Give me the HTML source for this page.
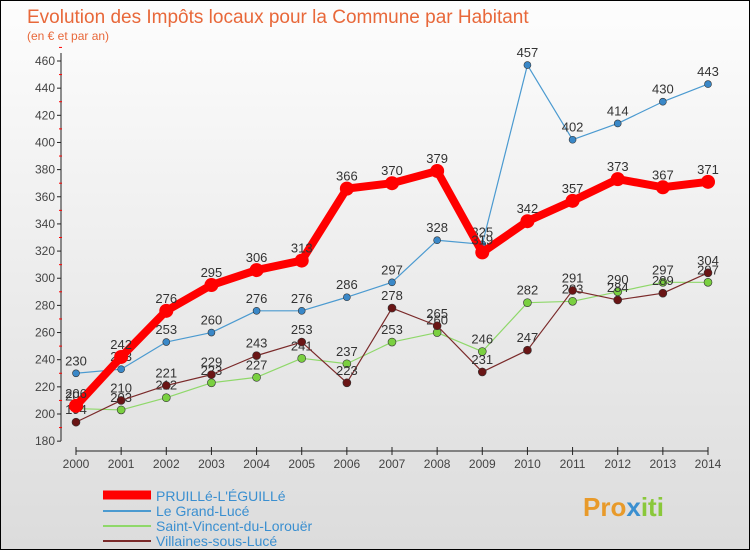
<!DOCTYPE html>
<html><head><meta charset="utf-8"><style>
body{margin:0;}
#c{position:relative;width:750px;height:550px;box-sizing:border-box;border:1px solid #000;background:linear-gradient(#fdfdfd,#dcdcdc);font-family:"Liberation Sans",sans-serif;overflow:hidden}
</style></head><body>
<div id="c">
<svg width="750" height="550" id="s" style="position:absolute;left:0;top:0">
<text x="26" y="22" font-size="19" fill="#e8683a">Evolution des Impôts locaux pour la Commune par Habitant</text>
<text x="26" y="39" font-size="12" fill="#e8683a">(en € et par an)</text>
<g id="axes"></g><g id="series"></g>
<g font-size="14">
<line x1="102" y1="494" x2="150" y2="494" stroke="#f00" stroke-width="9"/>
<text x="155" y="500" fill="#3a8fd0">PRUILLé-L'ÉGUILLé</text>
<line x1="102" y1="510" x2="150" y2="510" stroke="#4b9ad0" stroke-width="2"/>
<text x="155" y="515" fill="#3a8fd0">Le Grand-Lucé</text>
<line x1="102" y1="525" x2="150" y2="525" stroke="#8fd86a" stroke-width="2"/>
<text x="155" y="530" fill="#3a8fd0">Saint-Vincent-du-Lorouër</text>
<line x1="102" y1="540" x2="150" y2="540" stroke="#7a2a2a" stroke-width="2"/>
<text x="155" y="545" fill="#3a8fd0">Villaines-sous-Lucé</text>
</g>
<text x="582" y="515" font-size="26" font-weight="bold" fill="#e89a2a">Pro<tspan fill="#3a8fd0">x</tspan><tspan fill="#8ac83a">iti</tspan></text>
</svg>
</div>
<script>
const years=[2000,2001,2002,2003,2004,2005,2006,2007,2008,2009,2010,2011,2012,2013,2014];
const pruille=[206,242,276,295,306,313,366,370,379,319,342,357,373,367,371];
const grandLuce=[230,233,253,260,276,276,286,297,328,325,457,402,414,430,443];
const saintVincent=[204,203,212,223,227,241,237,253,260,246,282,283,290,297,297];
const villaines=[194,210,221,229,243,253,223,278,265,231,247,291,284,289,304];
const yTicks=[180,200,220,240,260,280,300,320,340,360,380,400,420,440,460];
const NS='http://www.w3.org/2000/svg';
const X=i=>75+i*(707-75)/14;
const Y=v=>413-(v-200)*(413-60)/260;
function mk(t,a,p){const e=document.createElementNS(NS,t);for(const k in a)e.setAttribute(k,a[k]);p.appendChild(e);return e;}
const ax=document.getElementById('axes');
let e=mk('line',{x1:60,y1:52,x2:60,y2:440,stroke:'#222'},ax);

e=mk('line',{x1:75,y1:450,x2:707,y2:450,stroke:'#222'},ax);

yTicks.forEach(v=>{const y=Y(v);
mk('line',{x1:56,y1:y,x2:60,y2:y,stroke:'#222'},ax);
mk('line',{x1:58,y1:Y(v+10),x2:61,y2:Y(v+10),stroke:'#f00'},ax);
const t=mk('text',{x:54,y:y+4,'font-size':12,fill:'#444','text-anchor':'end'},ax);t.textContent=v;
});
years.forEach((yr,i)=>{mk('line',{x1:X(i),y1:446,x2:X(i),y2:454,stroke:'#222'},ax);
const t=mk('text',{x:X(i),y:467,'font-size':12,fill:'#444','text-anchor':'middle'},ax);t.textContent=yr;
});
const sg=document.getElementById('series');
function draw(vals,name,col,w,r,dot){
const g=mk('g',{},sg);
const p=mk('polyline',{points:vals.map((v,i)=>X(i)+','+Y(v)).join(' '),fill:'none',stroke:col,'stroke-width':w,'stroke-linejoin':'round'},g);

vals.forEach((v,i)=>{const c=mk('circle',{cx:X(i),cy:Y(v),r:r,fill:dot,stroke:'#333','stroke-width':w>3?0:0.6},g);

const t=mk('text',{x:X(i),y:Y(v)-8,'font-size':13,fill:'#333','text-anchor':'middle'},g);t.textContent=v;
});}
draw(saintVincent,'saint-vincent','#8fd86a',1.2,4,'#7ad040');
draw(villaines,'villaines','#7a2a2a',1.2,4,'#6a1515');
draw(grandLuce,'grand-luce','#4b9ad0',1.2,3.5,'#3a88c8');
draw(pruille,'pruille','#f00',8,7,'#f00');
</script>
</body></html>
